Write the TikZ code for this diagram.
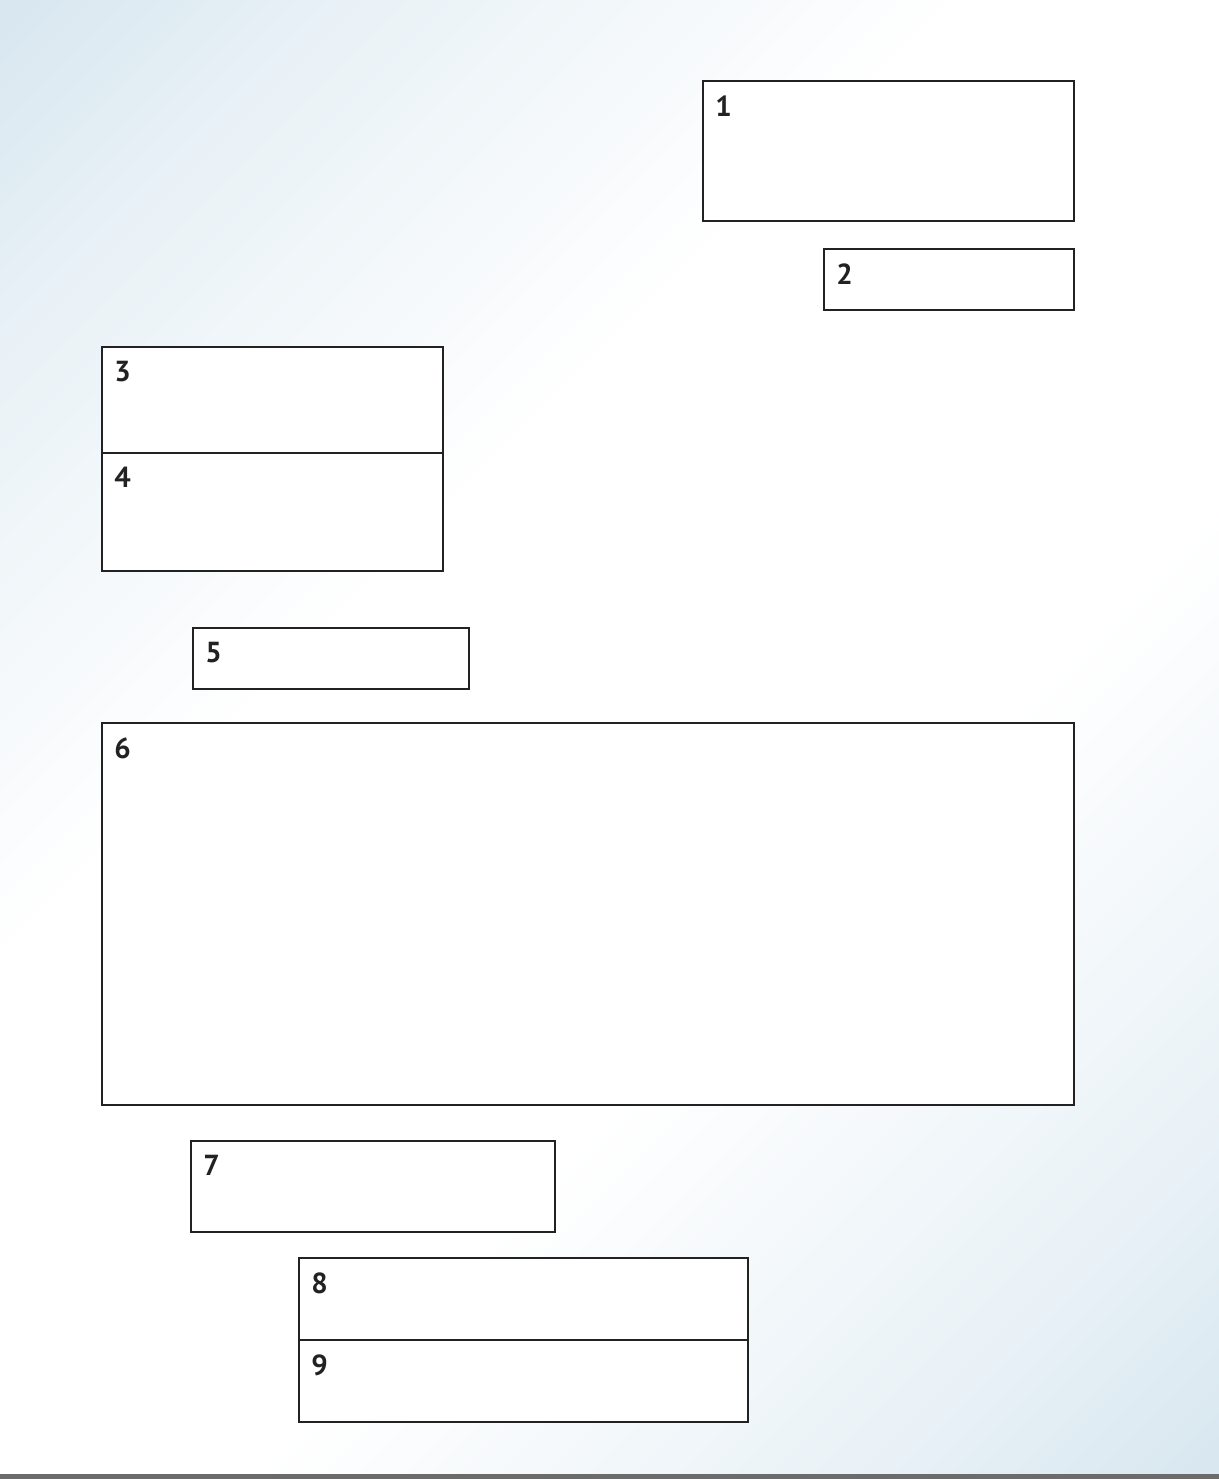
\documentclass[tikz,border=0pt]{standalone}
\usepackage{fontspec}
\setmainfont{PT Sans}
\usetikzlibrary{positioning}
\definecolor{PaleSky}{HTML}{D3E4EE}
\definecolor{BoxInk}{HTML}{222222}
\definecolor{ShadowGrey}{HTML}{6B6B6B}
\pgfdeclareverticalshading{skyband}{100bp}{color(0bp)=(PaleSky); color(12bp)=(PaleSky);
  color(24bp)=(PaleSky!50); color(40bp)=(white); color(60bp)=(white);
  color(76bp)=(PaleSky!50); color(88bp)=(PaleSky); color(100bp)=(PaleSky)}

\begin{document}
\begin{tikzpicture}[x=0.5pt,y=-0.5pt,
  panel/.style={draw=BoxInk,line width=1pt,fill=white,anchor=north west,inner sep=0pt},
  num/.style={font=\fontsize{14.5}{16}\selectfont\bfseries,text=BoxInk,anchor=north west,inner sep=0pt}
]
\useasboundingbox (0,0) rectangle (1219,1479);
\shade[shading=skyband,shading angle=45] (0,0) rectangle (1219,1475);
\fill[ShadowGrey] (0,1474) rectangle (1219,1479);

% numbered panels: name/x/y/width/height
\foreach \n/\x/\y/\w/\h in {1/702/80/371/140, 2/823/248/250/61, 3/101/346/341/106,
    4/101/452/341/118, 5/192/627/276/61, 6/101/722/972/382, 7/190/1140/364/91,
    8/298/1257/449/82, 9/298/1339/449/82}{
  \node[panel,minimum width=\w*0.5pt,minimum height=\h*0.5pt] (p\n) at (\x,\y) {};
  \node[num] (n\n) at ([xshift=6.5pt,yshift=-7.5pt]p\n.north west) {\n};
}
\end{tikzpicture}
\end{document}
